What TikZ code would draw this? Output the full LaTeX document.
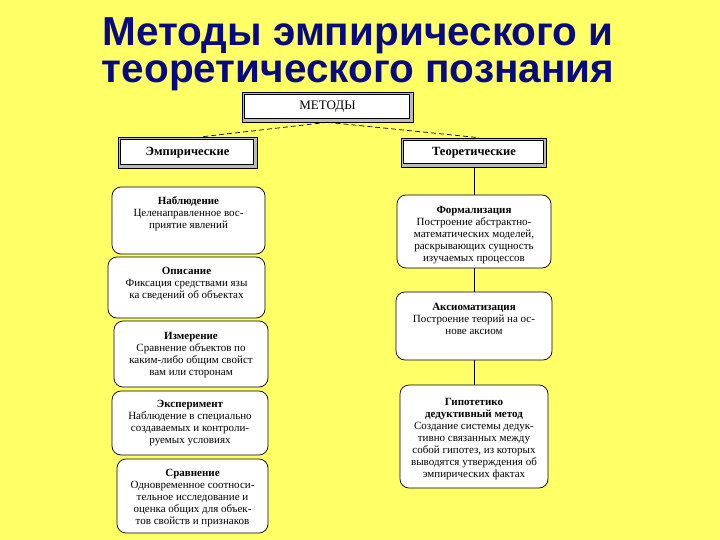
\documentclass[tikz,border=0pt]{standalone}
\usepackage{fontspec}
\setmainfont{Liberation Serif}
\newfontfamily\titlefont{Liberation Sans}
\definecolor{bgyellow}{RGB}{255,255,102}
\definecolor{titleblue}{RGB}{10,10,128}
\tikzset{
  hdrbox/.style={draw=black, fill=gray!55, line width=0.6pt, inner sep=0pt,
    font=\fontsize{12.5}{13}\selectfont\bfseries,
    path picture={\draw[fill=white, line width=0.4pt]
      ([shift={(1.8pt,-1.8pt)}]path picture bounding box.north west) rectangle
      ([shift={(-3.5pt,3.5pt)}]path picture bounding box.south east);}},
  rbox/.style={draw=black, fill=white, rounded corners=9pt, line width=0.7pt, inner sep=0pt,
    font=\fontsize{11}{12}\selectfont},
  ttl/.style={text=titleblue, font=\titlefont\fontsize{40.5}{41}\selectfont\bfseries, anchor=base, inner sep=0pt},
  conn/.style={line width=0.6pt, black},
  dashconn/.style={line width=0.7pt, black, dash pattern=on 5pt off 3pt}
}
\newcommand{\bx}[3]{\parbox[c][#1pt][t]{#2pt}{\centering #3}}
\begin{document}
\begin{tikzpicture}[x=1pt,y=-1pt]
\fill[bgyellow] (0,0) rectangle (720,540);
\useasboundingbox (0,0) rectangle (720,540);
% title
\node[ttl] (t1) at (358,46) {Методы эмпирического и};
\node[ttl] (t2) at (358,83) {теоретического познания};
% headers
\node[hdrbox, minimum width=171pt, minimum height=30pt, font=\fontsize{13}{13}\selectfont] (metody) at (327.5,107) {МЕТОДЫ};
\node[hdrbox, minimum width=139pt, minimum height=31pt] (emp) at (187.5,152.5) {Эмпирические};
\node[hdrbox, minimum width=145pt, minimum height=29pt] (teo) at (474,152.5) {Теоретические};
% left column
\node[rbox, minimum width=153pt, minimum height=67pt] (nab) at (188.5,220.5)
  {\bx{47}{152}{\textbf{Наблюдение}\\Целенаправленное вос-\\приятие явлений}};
\node[rbox, minimum width=157pt, minimum height=61pt] (opis) at (186.5,287.5)
  {\bx{41}{156}{\textbf{Описание}\\Фиксация средствами язы\\ка сведений об объектах}};
\node[rbox, minimum width=154pt, minimum height=66pt] (izm) at (191,354)
  {\bx{44}{153}{\textbf{Измерение}\\Сравнение объектов по\\каким-либо общим свойст\\вам или сторонам}};
\node[rbox, minimum width=156pt, minimum height=64pt] (eksp) at (190,423)
  {\bx{46}{155}{\textbf{Эксперимент}\\Наблюдение в специально\\создаваемых и контроли-\\руемых условиях}};
\node[rbox, minimum width=151pt, minimum height=74pt] (srav) at (192.5,496)
  {\bx{54}{150}{\textbf{Сравнение}\\Одновременное соотноси-\\тельное исследование и\\оценка общих для объек-\\тов свойств и признаков}};
% right column
\node[rbox, minimum width=154pt, minimum height=73pt] (form) at (474,231.5)
  {\bx{51}{153}{\textbf{Формализация}\\Построение абстрактно-\\математических моделей,\\раскрывающих сущность\\изучаемых процессов}};
\node[rbox, minimum width=156pt, minimum height=68pt] (aks) at (474,326)
  {\bx{46}{155}{\textbf{Аксиоматизация}\\Построение теорий на ос-\\нове аксиом}};
\node[rbox, minimum width=148pt, minimum height=103pt] (gip) at (474,436.5)
  {\bx{77}{147}{\textbf{Гипотетико}\\\textbf{дедуктивный метод}\\Создание системы дедук-\\тивно связанных между\\собой гипотез, из которых\\выводятся утверждения об\\эмпирических фактах}};
% connectors
\draw[dashconn] (metody.south) -- ([xshift=15pt]emp.north);
\draw[dashconn] (metody.south) -- ([xshift=5pt]teo.north);
\draw[conn] (teo.south) -- (form.north);
\draw[conn] (form.south) -- (aks.north);
\draw[conn] (aks.south) -- (gip.north);
\end{tikzpicture}
\end{document}
